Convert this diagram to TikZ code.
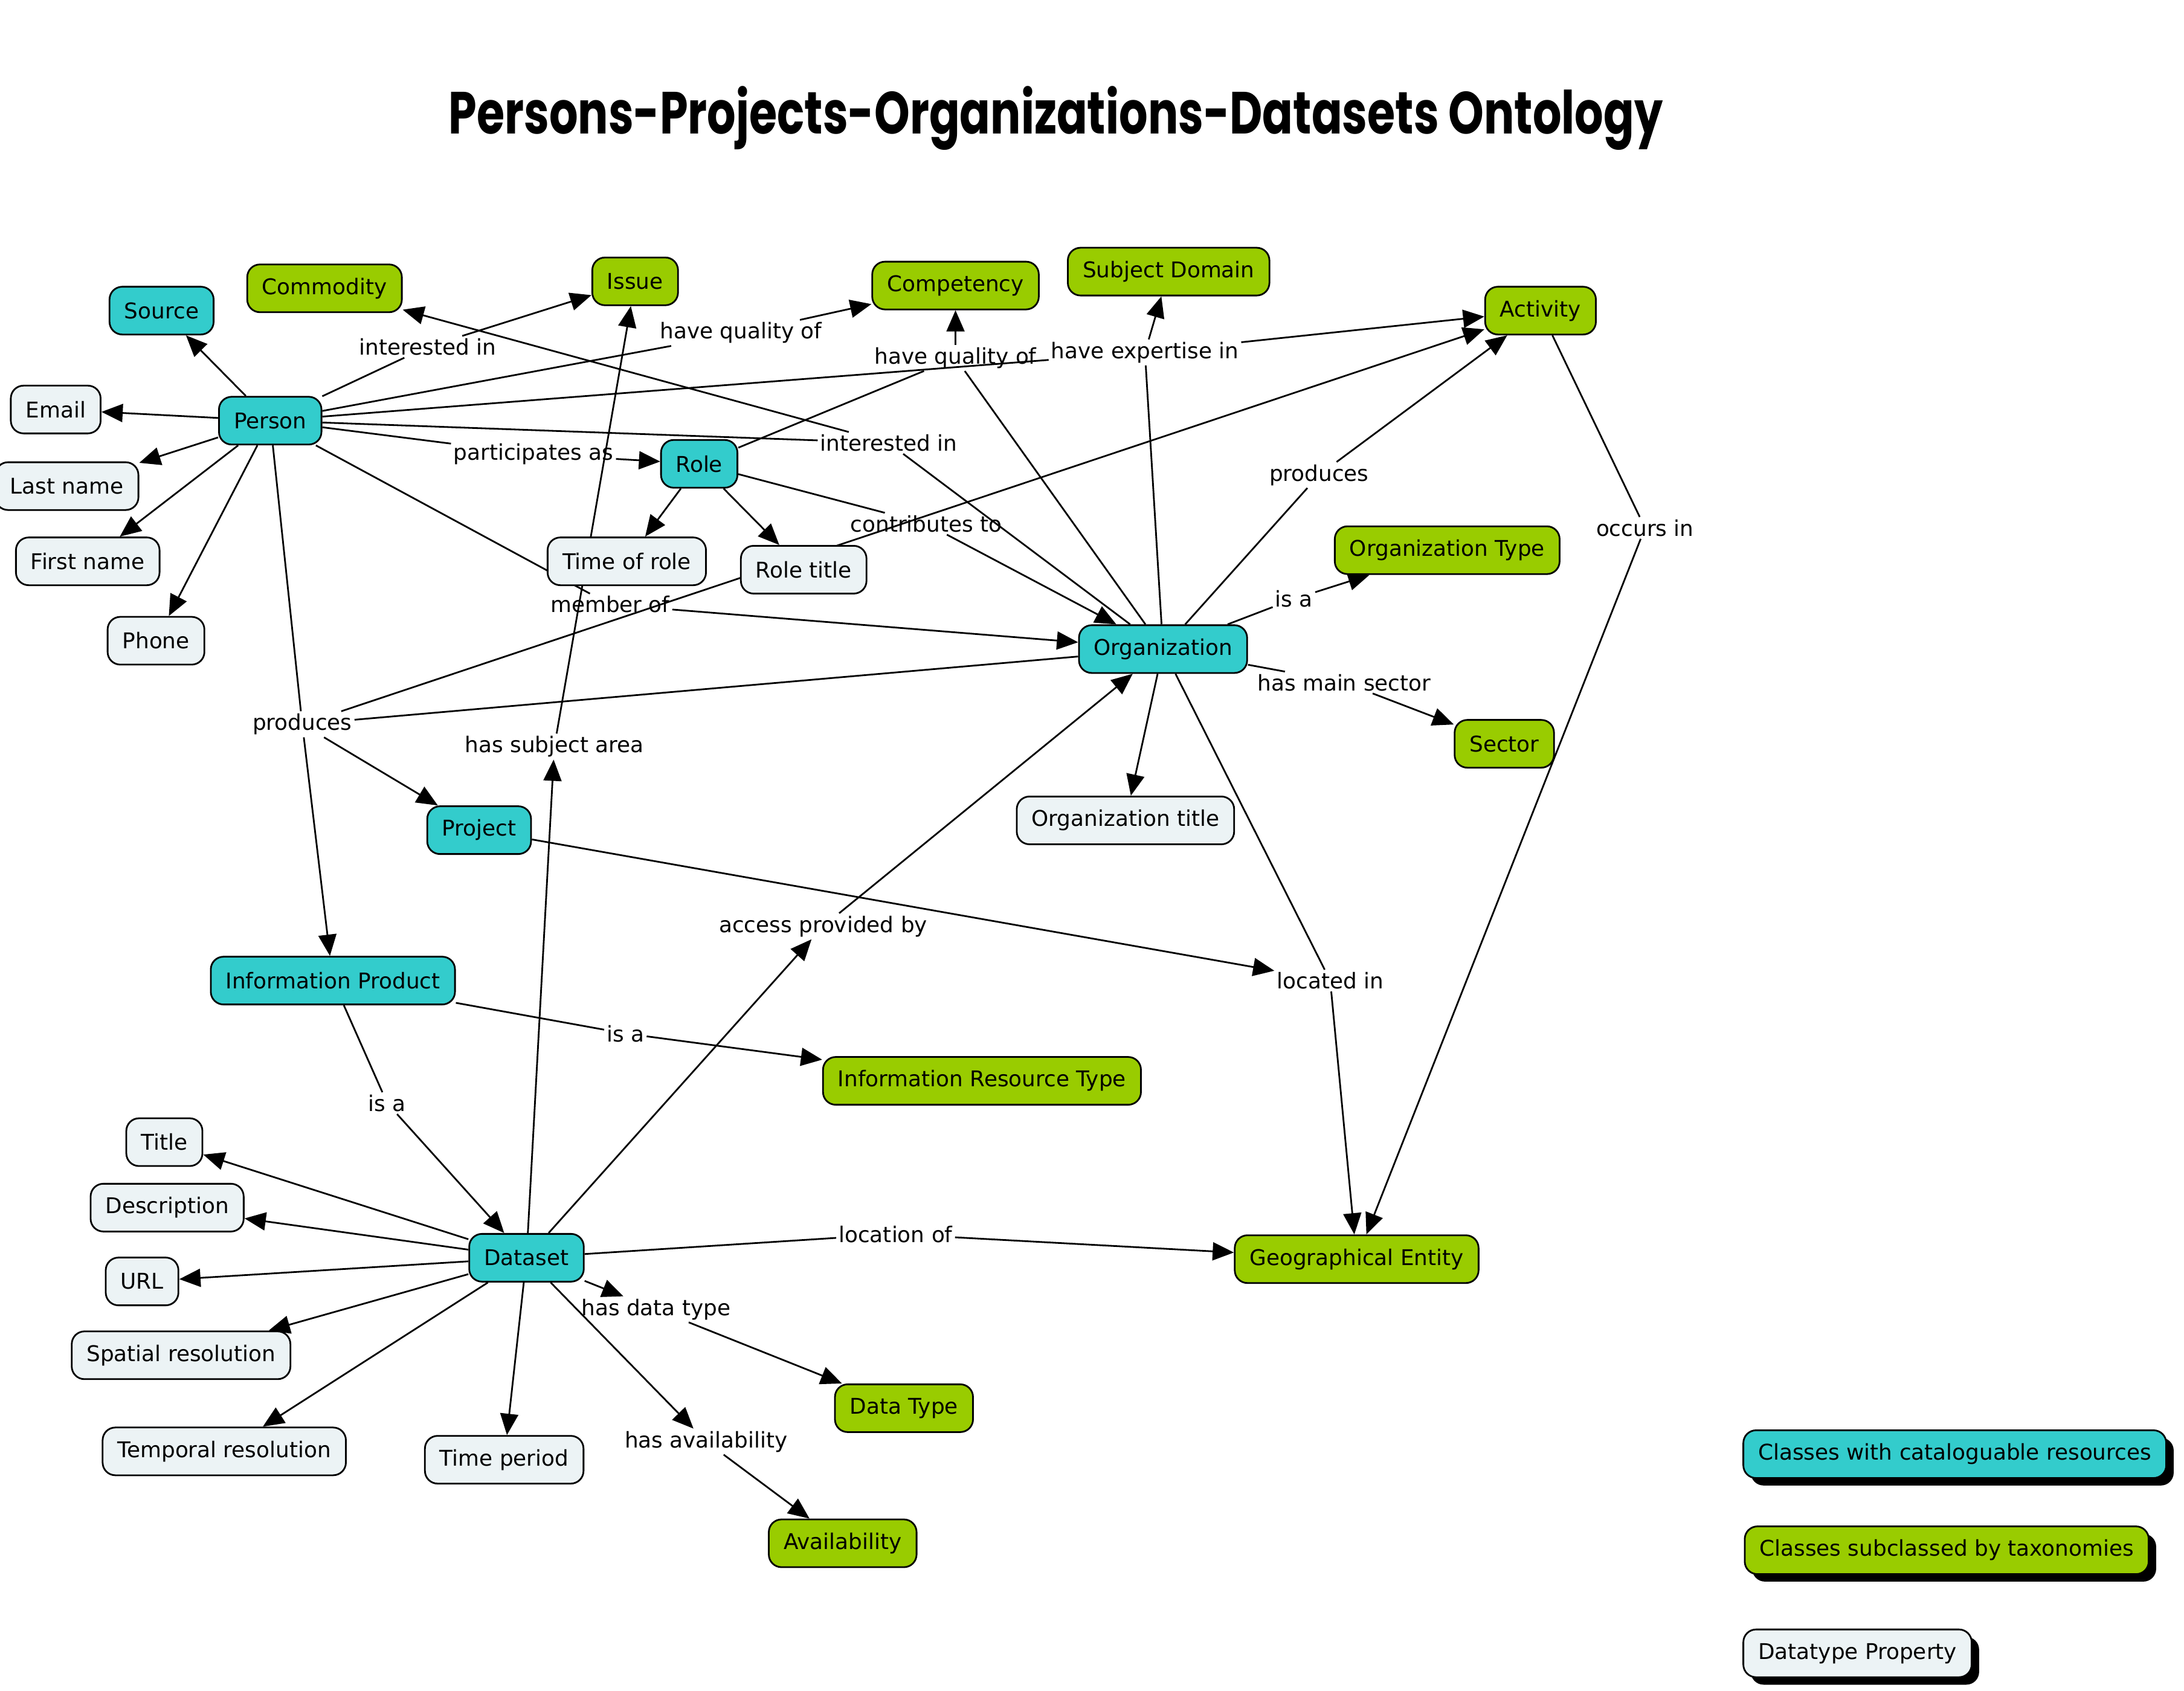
\documentclass[tikz,border=0pt]{standalone}
\usepackage{fontspec}
\setmainfont{DejaVu Sans}
\newfontfamily\titlefont[FakeStretch=0.76]{Poppins}
\usetikzlibrary{arrows.meta, backgrounds, shadows}
\definecolor{clsteal}{RGB}{51,204,204}
\definecolor{taxgreen}{RGB}{153,204,0}
\definecolor{propgray}{RGB}{236,243,245}
\newcommand{\mapfont}{\fontsize{10.2pt}{12pt}\selectfont}

\begin{document}
\begin{tikzpicture}[x=0.02306cm, y=-0.02306cm]
      \tikzset{concept/.style = {shape=rectangle,draw,rounded corners=6pt,line width=0.8pt,minimum height=22.5pt,inner xsep=7pt,font=\mapfont}}
      \tikzset{cls/.style = {concept,fill=clsteal}}
      \tikzset{tax/.style = {concept,fill=taxgreen}}
      \tikzset{prop/.style = {concept,fill=propgray}}
      \tikzset{legend/.style = {anchor=west,drop shadow={shadow xshift=3.5pt,shadow yshift=-3.5pt,fill=black,opacity=1}}}
      \tikzset{lbl/.style = {inner sep=1pt,font=\mapfont}}
      \tikzset{edge/.style = {-,line width=0.8pt}}
      \tikzset{arredge/.style = {edge,-{Triangle[length=10pt,width=8.5pt]}}}

      \useasboundingbox (0,0) rectangle (1568,1214);

      \node (title) at (758,85) {\titlefont\bfseries\fontsize{28pt}{32pt}\selectfont Persons-Projects-Organizations-Datasets Ontology};

      % concepts
      \node[cls] (source) at (116,223) {Source};
      \node[tax] (commodity) at (233,207) {Commodity};
      \node[tax] (issue) at (456,202) {Issue};
      \node[tax] (competency) at (686,205) {Competency};
      \node[tax] (subjdom) at (839,195) {Subject Domain};
      \node[tax] (activity) at (1106,223) {Activity};
      \node[prop] (email) at (40,294) {Email};
      \node[cls] (person) at (194,302) {Person};
      \node[prop] (lastname) at (48,349) {Last name};
      \node[cls] (role) at (502,333) {Role};
      \node[prop] (firstname) at (63,403) {First name};
      \node[prop] (timerole) at (450,403) {Time of role};
      \node[prop] (roletitle) at (577,409) {Role title};
      \node[tax] (orgtype) at (1039,395) {Organization Type};
      \node[prop] (phone) at (112,460) {Phone};
      \node[cls] (org) at (835,466) {Organization};
      \node[tax] (sector) at (1080,534) {Sector};
      \node[cls] (project) at (344,596) {Project};
      \node[prop] (orgtitle) at (808,589) {Organization title};
      \node[cls] (infoprod) at (239,704) {Information Product};
      \node[tax] (inforestype) at (705,776) {Information Resource Type};
      \node[prop] (title) at (118,820) {Title};
      \node[prop] (descr) at (120,867) {Description};
      \node[prop] (url) at (102,920) {URL};
      \node[cls] (dataset) at (378,903) {Dataset};
      \node[tax] (geo) at (974,904) {Geographical Entity};
      \node[prop] (spatres) at (130,973) {Spatial resolution};
      \node[tax] (datatype) at (649,1011) {Data Type};
      \node[prop] (tempres) at (161,1042) {Temporal resolution};
      \node[prop] (timeper) at (362,1048) {Time period};
      \node[tax] (avail) at (605,1108) {Availability};

      % link phrases
      \node[lbl] (intin1) at (307,249) {interested in};
      \node[lbl] (hasq1) at (532,239) {have quality of};
      \node[lbl] (hasq2) at (686,257) {have quality of};
      \node[lbl] (hasexp) at (822,253) {have expertise in};
      \node[lbl] (intin2) at (638,318) {interested in};
      \node[lbl] (partas) at (383,326) {participates as};
      \node[lbl] (contrib) at (665,376) {contributes to};
      \node[lbl] (prod2) at (947,341) {produces};
      \node[lbl] (occurs) at (1181,379) {occurs in};
      \node[lbl] (isa1) at (929,430) {is a};
      \node[lbl] (memberof) at (438,434) {member of};
      \node[lbl] (mainsect) at (965,490) {has main sector};
      \node[lbl] (prod1) at (217,520) {produces};
      \node[lbl] (subjarea) at (398,536) {has subject area};
      \node[lbl] (access) at (591,665) {access provided by};
      \node[lbl] (locin) at (955,704) {located in};
      \node[lbl] (isa2) at (449,742) {is a};
      \node[lbl] (isa3) at (278,792) {is a};
      \node[lbl] (locof) at (643,886) {location of};
      \node[lbl] (hasdtype) at (471,940) {has data type};
      \node[lbl] (hasavail) at (507,1035) {has availability};

      % legend
      \node[cls,legend] (leg1) at (1251,1044) {Classes with cataloguable resources};
      \node[tax,legend] (leg2) at (1252,1113) {Classes subclassed by taxonomies};
      \node[prop,legend] (leg3) at (1251,1187) {Datatype Property};

      \begin{scope}[on background layer]
      % person
      \draw[arredge] (person) -- (source);
      \draw[arredge] (person) -- (email);
      \draw[arredge] (person) -- (lastname);
      \draw[arredge] (person) -- (firstname);
      \draw[arredge] (person) -- (phone);
      \draw[edge] (person) -- (intin1);
      \draw[arredge] (intin1) -- (issue);
      \draw[edge] (person) -- (hasq1);
      \draw[arredge] (hasq1) -- (competency);
      \draw[edge] (person) -- (hasexp);
      \draw[edge] (org) -- (hasexp);
      \draw[arredge] (hasexp) -- (subjdom);
      \draw[arredge] (hasexp) -- (activity);
      \draw[edge] (person) -- (intin2);
      \draw[edge] (org) -- (intin2);
      \draw[arredge] (intin2) -- (commodity);
      \draw[edge] (person) -- (partas);
      \draw[arredge] (partas) -- (role);
      \draw[edge] (person) -- (memberof);
      \draw[arredge] (memberof) -- (org);
      \draw[edge] (person) -- (prod1);
      \draw[edge] (org) -- (prod1);
      \draw[arredge] (prod1) -- (project);
      \draw[arredge] (prod1) -- (infoprod);
      \draw[arredge] (prod1) -- (activity);
      % role
      \draw[arredge] (role) -- (timerole);
      \draw[arredge] (role) -- (roletitle);
      \draw[edge] (role) -- (hasq2);
      \draw[edge] (org) -- (hasq2);
      \draw[arredge] (hasq2) -- (competency);
      \draw[edge] (role) -- (contrib);
      \draw[arredge] (contrib) -- (org);
      % organization
      \draw[arredge] (org) -- (orgtitle);
      \draw[edge] (org) -- (prod2);
      \draw[arredge] (prod2) -- (activity);
      \draw[edge] (org) -- (isa1);
      \draw[arredge] (isa1) -- (orgtype);
      \draw[edge] (org) -- (mainsect);
      \draw[arredge] (mainsect) -- (sector);
      \draw[edge] (org) -- (locin);
      \draw[arredge] (project) -- (locin);
      \draw[arredge] (locin) -- (geo);
      \draw[edge] (activity) -- (occurs);
      \draw[arredge] (occurs) -- (geo);
      % information product
      \draw[edge] (infoprod) -- (isa2);
      \draw[arredge] (isa2) -- (inforestype);
      \draw[edge] (infoprod) -- (isa3);
      \draw[arredge] (isa3) -- (dataset);
      % dataset
      \draw[arredge] (dataset) -- (title);
      \draw[arredge] (dataset) -- (descr);
      \draw[arredge] (dataset) -- (url);
      \draw[arredge] (dataset) -- (spatres);
      \draw[arredge] (dataset) -- (tempres);
      \draw[arredge] (dataset) -- (timeper);
      \draw[arredge] (dataset) -- (subjarea);
      \draw[arredge] (subjarea) -- (issue);
      \draw[arredge] (dataset) -- (access);
      \draw[arredge] (access) -- (org);
      \draw[edge] (dataset) -- (locof);
      \draw[arredge] (locof) -- (geo);
      \draw[arredge] (dataset) -- (hasdtype);
      \draw[arredge] (hasdtype) -- (datatype);
      \draw[arredge] (dataset) -- (hasavail);
      \draw[arredge] (hasavail) -- (avail);
      \end{scope}
    \end{tikzpicture}
\end{document}
